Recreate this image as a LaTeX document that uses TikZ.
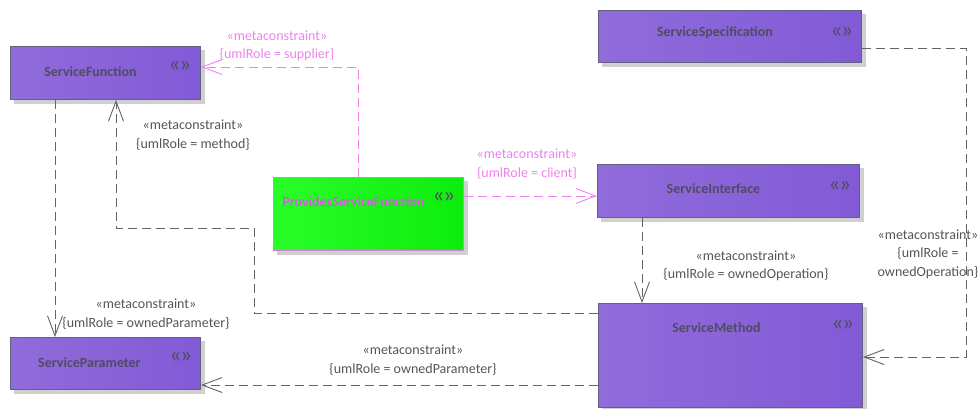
\documentclass[tikz,border=0pt]{standalone}
\usepackage{fontspec}
\setmainfont{Carlito}
\usetikzlibrary{arrows.meta,calc,backgrounds}
\definecolor{pA}{HTML}{7A50D3}
\definecolor{pB}{HTML}{916DDB}
\definecolor{pC}{HTML}{7B51D4}
\definecolor{gA}{HTML}{00DC00}
\definecolor{gB}{HTML}{2CFF2C}
\definecolor{gC}{HTML}{00E400}
\definecolor{boxborder}{HTML}{62627E}
\definecolor{titlec}{HTML}{504C5E}
\definecolor{iconc}{HTML}{4E4E5A}
\definecolor{shadowc}{HTML}{D0D0D0}
\definecolor{linec}{HTML}{646464}
\definecolor{labelc}{HTML}{555555}
\definecolor{pinkc}{HTML}{EE82EE}
\definecolor{pinkborder}{HTML}{E07EE0}
\definecolor{pinktext}{HTML}{D85ADF}
\pgfdeclarehorizontalshading{purpshade}{100bp}{color(0bp)=(pA); color(22bp)=(pB); color(100bp)=(pC)}
\pgfdeclarehorizontalshading{greenshade}{100bp}{color(0bp)=(gA); color(20bp)=(gB); color(100bp)=(gC)}
\tikzset{
  box/.style={rectangle, anchor=north west, draw=boxborder, line width=0.9pt, shading=purpshade, inner sep=0pt},
  gbox/.style={rectangle, anchor=north west, draw=pinkborder, line width=0.9pt, shading=greenshade, inner sep=0pt},
  title/.style={font=\fontsize{14}{16}\selectfont\bfseries, text=titlec, inner sep=0pt},
  icon/.style={font=\fontsize{23}{24}\selectfont, text=iconc, inner sep=0pt, anchor=base},
  lbl/.style={font=\fontsize{14}{18.5}\selectfont, text=labelc, align=center, inner sep=0pt},
  plbl/.style={lbl, text=pinkc},
  conn/.style={draw=linec, line width=0.9pt, dash pattern=on 9pt off 5pt, -{Straight Barb[length=20pt,width=15pt,line width=0.9pt]}},
  pconn/.style={conn, draw=pinkc},
}
\begin{document}
\begin{tikzpicture}[x=1pt,y=-1pt]
\useasboundingbox (0,0) rectangle (979,408);
% boxes
\node[box, minimum width=190pt, minimum height=53pt] (sf) at (10,46) {};
\node[box, minimum width=263pt, minimum height=52pt] (ss) at (598,10) {};
\node[box, minimum width=262pt, minimum height=53pt] (si) at (597,164) {};
\node[gbox, minimum width=190pt, minimum height=73pt] (pf) at (273,177) {};
\node[box, minimum width=264pt, minimum height=104pt] (sm) at (598,303) {};
\node[box, minimum width=190pt, minimum height=52pt] (sp) at (10,337) {};
\begin{scope}[on background layer]
  \foreach \n in {sf,ss,si,pf,sm,sp}
    \fill[shadowc] ($(\n.south west)+(4,4)$) rectangle ($(\n.north east)+(4,4)$);
\end{scope}
% titles
\node[title] (sft) at ($(sf.north)+(-15,26)$) {ServiceFunction};
\node[title] (sst) at ($(ss.north)+(-15,23)$) {ServiceSpecification};
\node[title] (sit) at ($(si.north)+(-15,25)$) {ServiceInterface};
\node[title, text=pinktext] (pft) at ($(pf.north)+(-15,25)$) {ProvidesServiceFunction};
\node[title] (smt) at ($(sm.north)+(-14,25)$) {ServiceMethod};
\node[title] (spt) at ($(sp.north)+(-16,26)$) {ServiceParameter};
% icons
\node[icon] (sfi) at ($(sf.north east)+(-21,25)$) {«\kern-1pt»};
\node[icon] (ssi) at ($(ss.north east)+(-20,27)$) {«\kern-1pt»};
\node[icon] (sii) at ($(si.north east)+(-20,27)$) {«\kern-1pt»};
\node[icon] (pfi) at ($(pf.north east)+(-20,25)$) {«\kern-1pt»};
\node[icon] (smi) at ($(sm.north east)+(-20,27)$) {«\kern-1pt»};
\node[icon] (spi) at ($(sp.north east)+(-20,25)$) {«\kern-1pt»};
% connectors
\draw[pconn] ($(pf.north west)+(85,0)$) |- ($(sf.north east)+(0,21)$);
\draw[pconn] ($(pf.north east)+(0,19)$) -- ($(si.north west)+(0,32)$);
\draw[conn] ($(sf.south west)+(45,0)$) -- ($(sp.north west)+(45,0)$);
\coordinate (c4) at (254,228);
\draw[conn] ($(sm.north west)+(0,10)$) -| (c4) -| ($(sf.south west)+(106,0)$);
\draw[conn] ($(si.south west)+(45,0)$) -- ($(sm.north west)+(44,0)$);
\coordinate (c6) at (966,200);
\draw[conn] ($(ss.north east)+(0,38)$) -| (c6) |- ($(sm.north east)+(0,54)$);
\draw[conn] ($(sm.north west)+(0,82)$) -- ($(sp.north east)+(0,48)$);
% labels
\node[plbl] (l1) at (277,46) {«metaconstraint»\\\{umlRole = supplier\}};
\node[plbl] (l2) at (527,164) {«metaconstraint»\\\{umlRole = client\}};
\node[lbl] (l3) at (193,135) {«metaconstraint»\\\{umlRole = method\}};
\node[lbl] (l4) at (146,314) {«metaconstraint»\\\{umlRole = ownedParameter\}};
\node[lbl] (l5) at (746,266) {«metaconstraint»\\\{umlRole = ownedOperation\}};
\node[lbl] (l6) at (928,254) {«metaconstraint»\\\{umlRole =\\ownedOperation\}};
\node[lbl] (l7) at (413,360) {«metaconstraint»\\\{umlRole = ownedParameter\}};
\end{tikzpicture}
\end{document}
